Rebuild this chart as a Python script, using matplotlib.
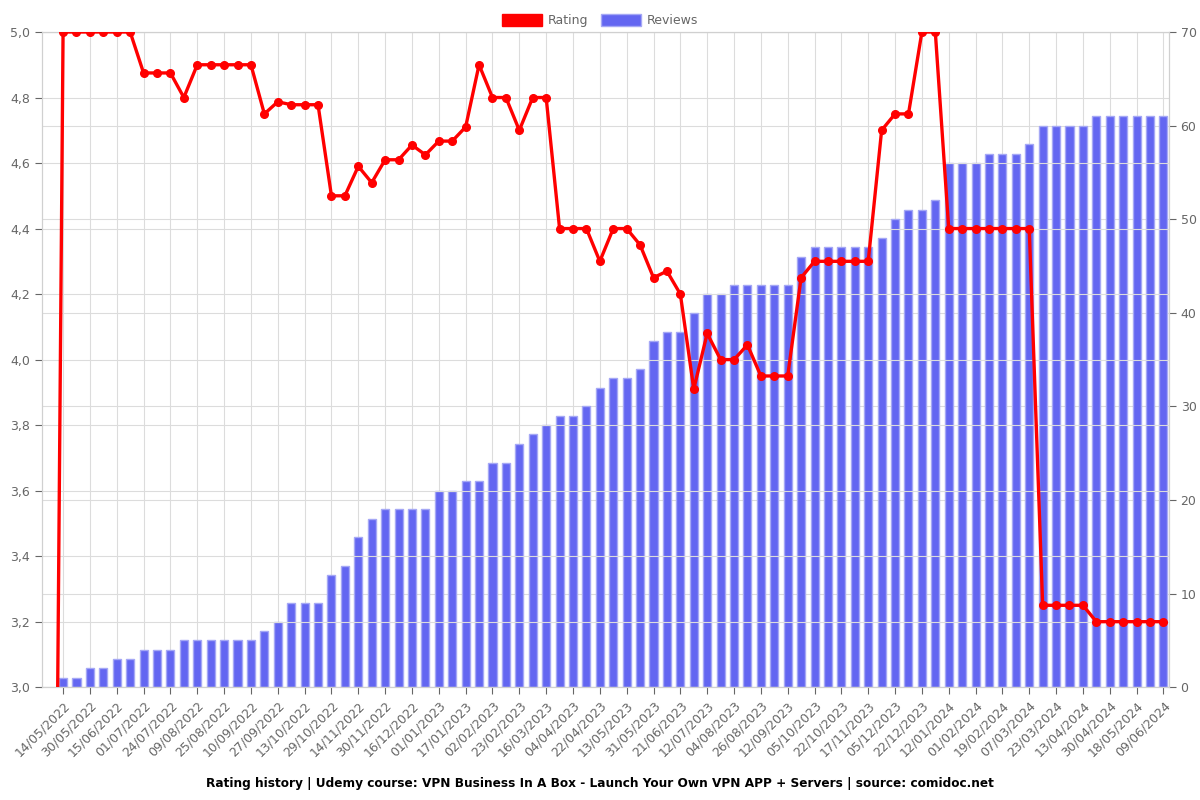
import numpy as np
import matplotlib
matplotlib.use("Agg")
import matplotlib.pyplot as plt
from matplotlib.patches import Patch
from matplotlib.ticker import FuncFormatter, MultipleLocator

# tick labels (every 2nd point)
labels = ["14/05/2022", "30/05/2022", "15/06/2022", "01/07/2022", "24/07/2022", "09/08/2022",
          "25/08/2022", "10/09/2022", "27/09/2022", "13/10/2022", "29/10/2022", "14/11/2022",
          "30/11/2022", "16/12/2022", "01/01/2023", "17/01/2023", "02/02/2023", "23/02/2023",
          "16/03/2023", "04/04/2023", "22/04/2023", "13/05/2023", "31/05/2023", "21/06/2023",
          "12/07/2023", "04/08/2023", "26/08/2023", "12/09/2023", "05/10/2023", "22/10/2023",
          "17/11/2023", "05/12/2023", "22/12/2023", "12/01/2024", "01/02/2024", "19/02/2024",
          "07/03/2024", "23/03/2024", "13/04/2024", "30/04/2024", "18/05/2024", "09/06/2024"]

reviews = [1, 1, 2, 2, 3, 3, 4, 4, 4, 5, 5, 5, 5, 5, 5, 6, 7, 9, 9, 9,
           12, 13, 16, 18, 19, 19, 19, 19, 21, 21, 22, 22, 24, 24, 26, 27, 28, 29, 29, 30,
           32, 33, 33, 34, 37, 38, 38, 40, 42, 42, 43, 43, 43, 43, 43, 46, 47, 47, 47, 47,
           47, 48, 50, 51, 51, 52, 56, 56, 56, 57, 57, 57, 58, 60, 60, 60, 60, 61, 61, 61,
           61, 61, 61]

# rating series starts from 0 one step before the first review
rating_start = 0.0
rating = [5.0, 5.0, 5.0, 5.0, 5.0, 5.0, 4.875, 4.875, 4.875, 4.8,
          4.9, 4.9, 4.9, 4.9, 4.9, 4.75, 4.787, 4.778, 4.778, 4.778,
          4.5, 4.5, 4.59, 4.54, 4.61, 4.61, 4.655, 4.625, 4.667, 4.667,
          4.71, 4.9, 4.8, 4.8, 4.7, 4.8, 4.8, 4.4, 4.4, 4.4,
          4.3, 4.4, 4.4, 4.35, 4.25, 4.27, 4.2, 3.91, 4.08, 4.0,
          4.0, 4.045, 3.95, 3.95, 3.95, 4.25, 4.3, 4.3, 4.3, 4.3,
          4.3, 4.7, 4.75, 4.75, 5.0, 5.0, 4.4, 4.4, 4.4, 4.4,
          4.4, 4.4, 4.4, 3.25, 3.25, 3.25, 3.25, 3.2, 3.2, 3.2,
          3.2, 3.2, 3.2]

x = np.arange(len(reviews))
xr = np.arange(-1, len(rating))

fig = plt.figure(figsize=(12, 8), dpi=100)
ax_bar = fig.add_axes([0.035, 0.141, 0.939, 0.819])
ax_rat = ax_bar.twinx()

gray = "#666666"
gridc = "#dcdcdc"

ax_bar.bar(x, reviews, width=0.6, color="#6366f1", edgecolor="#a5a8f5", linewidth=1, zorder=2)
ax_bar.set_ylim(0, 70)
ax_bar.yaxis.set_major_locator(MultipleLocator(10))
ax_bar.yaxis.tick_right()
ax_bar.grid(True, color=gridc, linewidth=0.8, zorder=0)
ax_bar.set_axisbelow(True)

ax_rat.plot(xr, [rating_start] + rating, color="#ff0000", linewidth=2.4, marker="o",
            markersize=5.5, zorder=5, clip_on=True)
ax_rat.set_ylim(3.0, 5.0)
ax_rat.yaxis.set_major_locator(MultipleLocator(0.2))
ax_rat.yaxis.tick_left()
ax_rat.yaxis.set_major_formatter(FuncFormatter(lambda v, p: f"{v:.1f}".replace(".", ",")))
ax_rat.grid(True, axis="y", color=gridc, linewidth=0.8)

ax_bar.set_xlim(-1.57, 82.4)
ax_bar.set_xticks(x[::2])
ax_bar.set_xticklabels(labels, rotation=45, ha="right", rotation_mode="anchor")

for a in (ax_bar, ax_rat):
    a.tick_params(colors=gray, labelsize=9, length=5, width=0.8)
    for s in a.spines.values():
        s.set_color("#d0d0d0")
ax_rat.tick_params(axis="y", colors=gray, labelsize=9)
ax_bar.tick_params(axis="y", colors=gray, labelsize=9)

handles = [Patch(facecolor="#ff0000", edgecolor="#ff0000"),
           Patch(facecolor="#6366f1", edgecolor="#a5a8f5")]
fig.legend(handles, ["Rating", "Reviews"], loc="upper center", bbox_to_anchor=(0.5, 0.997),
           ncol=2, frameon=False, fontsize=9, handlelength=3.2, handleheight=1.2,
           columnspacing=1.0, handletextpad=0.5, labelcolor=gray)

fig.text(0.5, 0.016, "Rating history | Udemy course: VPN Business In A Box - Launch Your Own VPN APP + Servers | source: comidoc.net",
         ha="center", fontsize=8.7, fontweight="bold")

fig.savefig("out.png", dpi=100)
